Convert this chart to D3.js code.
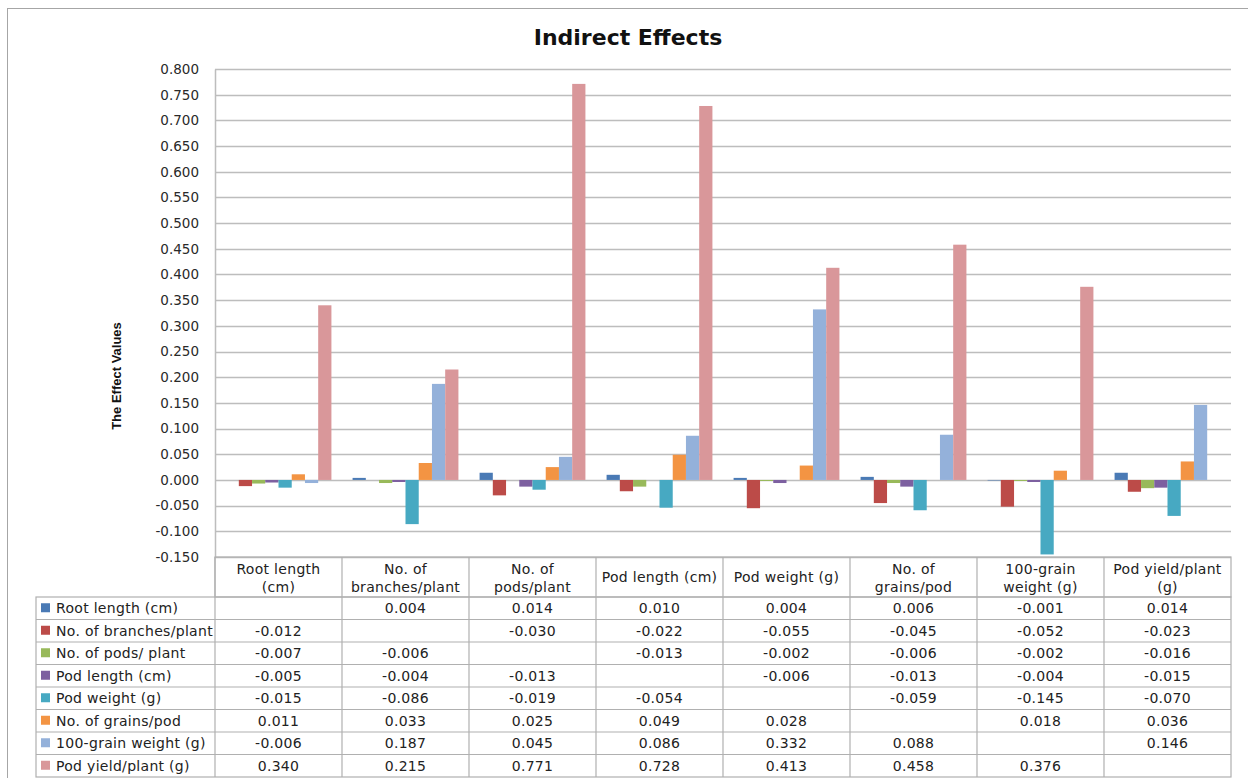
<!DOCTYPE html>
<html>
<head>
<meta charset="utf-8">
<script src="https://cdn.jsdelivr.net/npm/d3@7"></script>
<style>
  body { margin: 0; background: #fff; }
  text { font-family: 'DejaVu Sans', sans-serif; }
</style>
</head>
<body>
<div id="chart"></div>
<script>
// groups along x (also the table header)
var categories = ['Root length (cm)', 'No. of branches/plant', 'No. of pods/plant', 'Pod length (cm)',
                  'Pod weight (g)', 'No. of grains/pod', '100-grain weight (g)', 'Pod yield/plant (g)'];
var headerLabels = [['Root length', '(cm)'], ['No. of', 'branches/plant'], ['No. of', 'pods/plant'], ['Pod length (cm)'],
                    ['Pod weight (g)'], ['No. of', 'grains/pod'], ['100-grain', 'weight (g)'], ['Pod yield/plant', '(g)']];

// series (table rows)
var seriesNames = ['Root length (cm)', 'No. of branches/plant', 'No. of pods/ plant', 'Pod length (cm)',
                   'Pod weight (g)', 'No. of grains/pod', '100-grain weight (g)', 'Pod yield/plant (g)'];
var rootLength  = [null, 0.004, 0.014, 0.010, 0.004, 0.006, -0.001, 0.014];
var branches    = [-0.012, null, -0.030, -0.022, -0.055, -0.045, -0.052, -0.023];
var pods        = [-0.007, -0.006, null, -0.013, -0.002, -0.006, -0.002, -0.016];
var podLength   = [-0.005, -0.004, -0.013, null, -0.006, -0.013, -0.004, -0.015];
var podWeight   = [-0.015, -0.086, -0.019, -0.054, null, -0.059, -0.145, -0.070];
var grains      = [0.011, 0.033, 0.025, 0.049, 0.028, null, 0.018, 0.036];
var grainWeight = [-0.006, 0.187, 0.045, 0.086, 0.332, 0.088, null, 0.146];
var podYield    = [0.340, 0.215, 0.771, 0.728, 0.413, 0.458, 0.376, null];
var seriesValues = [rootLength, branches, pods, podLength, podWeight, grains, grainWeight, podYield];

var yTicks = [-0.150, -0.100, -0.050, 0.000, 0.050, 0.100, 0.150, 0.200, 0.250, 0.300, 0.350,
              0.400, 0.450, 0.500, 0.550, 0.600, 0.650, 0.700, 0.750, 0.800];

var colors = ['#4a7ab5', '#bc4b48', '#98b95a', '#7d60a0', '#47a9c2', '#f39443', '#94b1da', '#d9979a'];

var width = 1248, height = 778;
var plotLeft = 215, plotRight = 1231, plotTop = 69, plotBottom = 557;
var rowTop = 597, rowH = 22.5, legendLeft = 36;
var gridColor = '#bdbdbd', tableColor = '#b0b0b0';
var tableFont = '14px', tableSpacing = '0.3px';

var fmt = d3.formatLocale({decimal: '.', thousands: ',', grouping: [3], currency: ['', ''], minus: '-'}).format('.3f');

var svg = d3.select('#chart').append('svg')
    .attr('width', width)
    .attr('height', height);

// chart border
svg.append('rect')
    .attr('x', 7.5).attr('y', 8.5)
    .attr('width', 1260).attr('height', 800)
    .attr('fill', '#fff')
    .attr('stroke', '#a6a6a6')

svg.append('text')
    .attr('x', 628).attr('y', 45)
    .attr('text-anchor', 'middle')
    .style('font-size', '22px')
    .style('font-weight', 'bold')
    .style('fill', '#111')
    .text('Indirect Effects')

var x0 = d3.scaleBand().domain(categories).range([plotLeft, plotRight]).padding(0);
var x1 = d3.scaleBand().domain(seriesNames).range([0, x0.bandwidth()]).paddingInner(0).paddingOuter(0.8);
var y = d3.scaleLinear().domain([-0.15, 0.8]).range([plotBottom, plotTop]);

// grid
svg.append('g')
    .selectAll('line')
    .data(yTicks)
    .enter().append('line')
    .attr('x1', plotLeft).attr('x2', plotRight)
    .attr('y1', d => Math.round(y(d)) + 0.5).attr('y2', d => Math.round(y(d)) + 0.5)
    .attr('stroke', gridColor)
    .attr('stroke-width', 1.3)

var yaxis = d3.axisLeft(y).tickValues(yTicks).tickFormat(fmt).tickSize(0).tickPadding(16);
var gy = svg.append('g')
    .attr('transform', 'translate(' + plotLeft + ',0)')
    .call(yaxis)
gy.select('.domain').attr('stroke', gridColor).attr('stroke-width', 1.5)
gy.selectAll('text').style('font-size', '13.5px').style('fill', '#2a2a2a').style('font-family', 'DejaVu Sans')

svg.append('text')
    .attr('transform', 'translate(121,' + 376 + ') rotate(-90)')
    .attr('text-anchor', 'middle')
    .style('font-family', 'Liberation Sans Narrow, sans-serif')
    .style('font-size', '13px')
    .style('font-weight', 'bold')
    .style('fill', '#111')
    .text('The Effect Values')

// bars
var series = svg.append('g').selectAll('g')
    .data(seriesValues)
    .enter().append('g')
    .attr('fill', (d, i) => colors[i]);

series.selectAll('rect')
    .data((vals, i) => vals.map((v, j) => ({s: seriesNames[i], c: categories[j], v: v})).filter(d => d.v !== null))
    .enter().append('rect')
    .attr('x', d => x0(d.c) + x1(d.s))
    .attr('y', d => y(Math.max(0, d.v)))
    .attr('width', x1.bandwidth())
    .attr('height', d => Math.abs(y(d.v) - y(0)));

// data table
var table = svg.append('g')
    .attr('stroke', tableColor)
    .attr('stroke-width', 1.2)
    .attr('fill', 'none');

// header row
table.append('rect')
    .attr('x', plotLeft).attr('y', plotBottom)
    .attr('width', plotRight - plotLeft).attr('height', rowTop - plotBottom)
table.selectAll('.vline')
    .data(categories)
    .enter().append('line')
    .attr('x1', d => x0(d)).attr('x2', d => x0(d))
    .attr('y1', plotBottom).attr('y2', rowTop + rowH * seriesNames.length)
// body
table.append('rect')
    .attr('x', legendLeft).attr('y', rowTop)
    .attr('width', plotRight - legendLeft).attr('height', rowH * seriesNames.length)
table.selectAll('.hline')
    .data(seriesNames.slice(1))
    .enter().append('line')
    .attr('x1', legendLeft).attr('x2', plotRight)
    .attr('y1', (d, i) => rowTop + rowH * (i + 1)).attr('y2', (d, i) => rowTop + rowH * (i + 1))

var head = svg.append('g').selectAll('text')
    .data(headerLabels)
    .enter().append('text')
    .attr('x', (d, i) => x0(categories[i]) + x0.bandwidth() / 2)
    .attr('y', d => d.length === 1 ? (plotBottom + rowTop) / 2 + 5 : plotBottom + 17)
    .attr('text-anchor', 'middle')
    .style('font-size', tableFont)
    .style('letter-spacing', tableSpacing)
    .style('fill', '#222')
head.selectAll('tspan')
    .data(d => d)
    .enter().append('tspan')
    .attr('x', function() { return this.parentNode.getAttribute('x'); })
    .attr('dy', (d, i) => i === 0 ? 0 : 18)
    .text(d => d)

var rows = svg.append('g').selectAll('g')
    .data(seriesNames)
    .enter().append('g')
    .attr('transform', (d, i) => 'translate(0,' + (rowTop + rowH * i) + ')');

rows.append('rect')
    .attr('x', 41).attr('y', rowH / 2 - 5)
    .attr('width', 9).attr('height', 9)
    .attr('fill', (d, i) => colors[i])

rows.append('text')
    .attr('x', 56).attr('y', rowH / 2 + 5)
    .style('font-size', tableFont)
    .style('letter-spacing', tableSpacing)
    .style('fill', '#222')
    .text(d => d)

rows.selectAll('.val')
    .data((d, i) => seriesValues[i].map((v, j) => ({c: categories[j], v: v})).filter(d => d.v !== null))
    .enter().append('text')
    .attr('x', d => x0(d.c) + x0.bandwidth() / 2)
    .attr('y', rowH / 2 + 5)
    .attr('text-anchor', 'middle')
    .style('font-size', tableFont)
    .style('letter-spacing', tableSpacing)
    .style('fill', '#222')
    .text(d => fmt(d.v))
</script>
</body>
</html>
